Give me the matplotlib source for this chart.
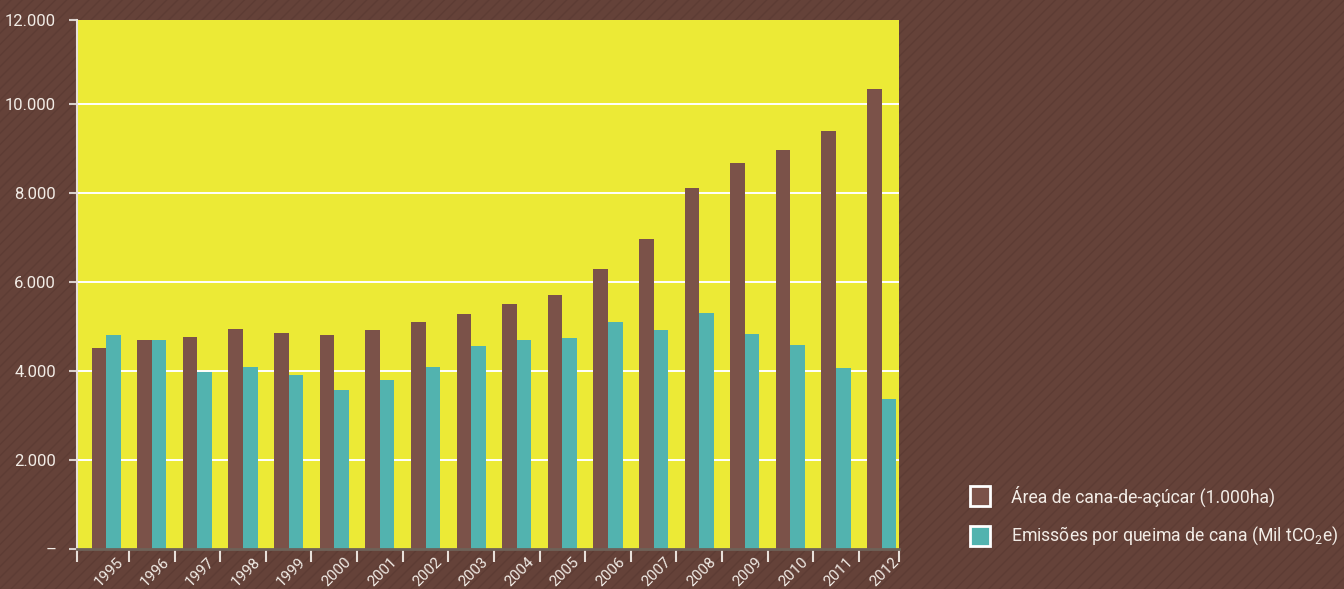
import matplotlib
matplotlib.use("Agg")
import matplotlib.pyplot as plt
import numpy as np
from matplotlib.patches import Rectangle

years = ["1995", "1996", "1997", "1998", "1999", "2000", "2001", "2002", "2003",
         "2004", "2005", "2006", "2007", "2008", "2009", "2010", "2011", "2012"]
area = [4520, 4700, 4770, 4950, 4860, 4800, 4910, 5090, 5270,
        5500, 5700, 6300, 6980, 8110, 8680, 8980, 9390, 10340]
emissions = [4800, 4700, 3980, 4090, 3910, 3570, 3800, 4090, 4570,
             4700, 4730, 5090, 4910, 5300, 4840, 4590, 4070, 3360]
series_labels = ["Área de cana-de-açúcar (1.000ha)",
                 "Emissões por queima de cana (Mil tCO$_2$e)"]
ytick_vals = [0, 2000, 4000, 6000, 8000, 10000, 11900]
ytick_labels = ["–", "2.000", "4.000", "6.000", "8.000", "10.000", "12.000"]

BG = "#654239"
STRIPE = "#5d3c34"
YELLOW = "#ECEA36"
BROWN = "#7B5249"
TEAL = "#52B3AF"
TXT = "#F2ECE6"

plt.rcParams['font.family'] = ['Roboto', 'DejaVu Sans']
plt.rcParams['mathtext.fontset'] = 'custom'
plt.rcParams['mathtext.rm'] = 'Roboto'
plt.rcParams['mathtext.it'] = 'Roboto'
plt.rcParams['hatch.linewidth'] = 1.0

fig = plt.figure(figsize=(13.44, 5.89), dpi=100)
fig.patch.set_facecolor(BG)
bgrect = Rectangle((0, 0), 1, 1, transform=fig.transFigure, facecolor=BG,
                   edgecolor=STRIPE, hatch='///', linewidth=0, zorder=-10)
fig.add_artist(bgrect)

W, H = 1344, 589
left, right, top, bottom = 77, 899, 20, 548.5
ax = fig.add_axes([left / W, 1 - bottom / H, (right - left) / W, (bottom - top) / H])
ax.set_facecolor(YELLOW)

x = np.arange(len(years))
bw = 0.32
ax.bar(x - bw / 2, area, width=bw, color=BROWN, zorder=3, label=series_labels[0])
ax.bar(x + bw / 2, emissions, width=bw, color=TEAL, zorder=3, label=series_labels[1])

xl, xr = -0.64, 17.38
ax.set_xlim(xl, xr)
ax.set_ylim(0, 11900)

ax.set_yticks(ytick_vals)
ax.set_yticklabels(ytick_labels)
for v in ytick_vals[1:-1]:
    ax.axhline(v, color="white", lw=1.4, zorder=1)

# major x ticks at group boundaries (no labels), minor at centers with labels
bounds = [xl] + list(np.arange(len(years) - 1) + 0.5) + [xr]
ax.set_xticks(bounds)
ax.set_xticklabels([""] * len(bounds))
ax.set_xticks(x + 0.22, minor=True)
ax.set_xticklabels(years, minor=True, rotation=45, ha='right', va='top',
                   rotation_mode='anchor')
ax.tick_params(axis='x', which='major', direction='out', length=9, width=1.5,
               color="#E8E0DA")
ax.tick_params(axis='x', which='minor', length=0, pad=4.5, labelsize=11,
               labelcolor=TXT)
ax.tick_params(axis='y', direction='out', length=6, width=1.5, color="#D8D0CC",
               labelsize=12, labelcolor=TXT, pad=9)

for s in ['top', 'right']:
    ax.spines[s].set_visible(False)
ax.spines['left'].set_color("#E8E0DA")
ax.spines['left'].set_linewidth(1.5)
ax.spines['bottom'].set_color("#6E6258")
ax.spines['bottom'].set_linewidth(2)
ax.spines['bottom'].set_zorder(4)

# legend
lx = 970 / W
for i, (lab, col) in enumerate(zip(series_labels, [BROWN, TEAL])):
    yc = 1 - (496 + 40 * i) / H
    sq = Rectangle((lx, yc - 10 / H), 20 / W, 20 / H, transform=fig.transFigure,
                   facecolor=col, edgecolor="white", linewidth=2)
    fig.add_artist(sq)
    fig.text(1011 / W, yc, lab, color=TXT, fontsize=12.7, va='center', ha='left')

fig.savefig("out.png", dpi=100, facecolor=BG)
